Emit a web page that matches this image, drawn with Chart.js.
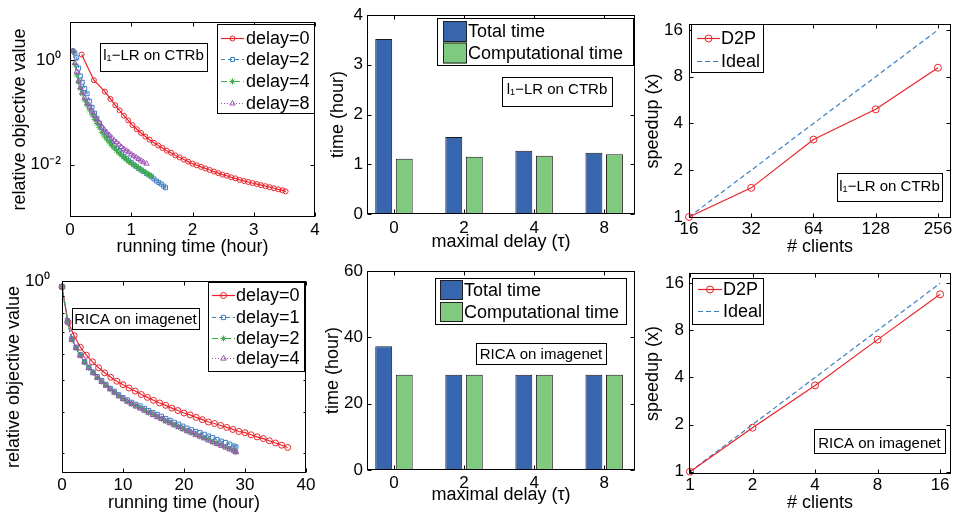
<!DOCTYPE html>
<html>
<head>
<meta charset="utf-8">
<script src="https://cdn.jsdelivr.net/npm/chart.js"></script>
<style>
  html, body { margin: 0; padding: 0; background: #fff; }
  #fig { position: relative; width: 956px; height: 512px; overflow: hidden; }
  #fig canvas { position: absolute; }
</style>
</head>
<body>
<div id="fig">
  <canvas id="ctrCurve" width="320" height="256" style="left:0;top:0"></canvas>
  <canvas id="ctrBars" width="320" height="256" style="left:320px;top:0"></canvas>
  <canvas id="ctrSpeed" width="316" height="256" style="left:640px;top:0"></canvas>
  <canvas id="ricaCurve" width="320" height="256" style="left:0;top:256px"></canvas>
  <canvas id="ricaBars" width="320" height="256" style="left:320px;top:256px"></canvas>
  <canvas id="ricaSpeed" width="316" height="256" style="left:640px;top:256px"></canvas>
</div>
<script>
// ---- l1-LR on CTRb : relative objective vs running time (hour) ----
const ctrTimeD0 = [0.19, 0.39, 0.57, 0.66, 0.74, 0.81, 0.88, 0.95, 1.02, 1.09, 1.16, 1.23, 1.30, 1.37, 1.44, 1.51,
  1.58, 1.65, 1.72, 1.79, 1.86, 1.93, 2.00, 2.07, 2.14, 2.21, 2.28, 2.35, 2.42, 2.49, 2.56, 2.63, 2.70, 2.77, 2.84,
  2.91, 2.98, 3.05, 3.12, 3.19, 3.26, 3.33, 3.40, 3.47, 3.52];
const ctrValD0 = [1.29, 0.417, 0.251, 0.182, 0.138, 0.110, 0.0871, 0.0708, 0.0575, 0.0479, 0.0407, 0.0347, 0.0302,
  0.0263, 0.0234, 0.0209, 0.0186, 0.0170, 0.0151, 0.0138, 0.0126, 0.0115, 0.0105, 0.00977, 0.00912, 0.00851, 0.00794,
  0.00741, 0.00692, 0.00646, 0.00617, 0.00575, 0.00550, 0.00513, 0.00490, 0.00468, 0.00447, 0.00427, 0.00407,
  0.00389, 0.00372, 0.00355, 0.00339, 0.00324, 0.00310];
const ctrTimeFast = [0.05, 0.08, 0.11, 0.14, 0.17, 0.20, 0.24, 0.28, 0.32, 0.36, 0.40, 0.44, 0.48, 0.52, 0.56, 0.60,
  0.64, 0.68, 0.72, 0.76, 0.80, 0.84, 0.88, 0.92, 0.96, 1.00, 1.04, 1.08, 1.12, 1.16, 1.20, 1.25, 1.29, 1.33, 1.37,
  1.41, 1.45, 1.49, 1.53, 1.56];
const ctrValD2 = [1.51, 1.38, 1.12, 0.708, 0.501, 0.380, 0.288, 0.229, 0.166, 0.126, 0.0977, 0.0776, 0.0631, 0.0513,
  0.0427, 0.0363, 0.0309, 0.0269, 0.0234, 0.0204, 0.0182, 0.0162, 0.0145, 0.0132, 0.0120, 0.0110, 0.0100, 0.00933,
  0.00851, 0.00794, 0.00741, 0.00676, 0.00631, 0.00589, 0.00537, 0.00490, 0.00457, 0.00427, 0.00389, 0.00363];
const ctrValD4 = [1.51, 0.832, 0.525, 0.380, 0.288, 0.229, 0.174, 0.138, 0.112, 0.0912, 0.0741, 0.0617, 0.0513,
  0.0417, 0.0355, 0.0309, 0.0269, 0.0234, 0.0209, 0.0186, 0.0166, 0.0151, 0.0138, 0.0126, 0.0115, 0.0107, 0.0100,
  0.00933, 0.00871, 0.00813, 0.00759, 0.00692, 0.00646, 0.00603];
const ctrValD8 = [1.51, 0.891, 0.603, 0.398, 0.302, 0.240, 0.191, 0.151, 0.126, 0.105, 0.0871, 0.0741, 0.0631,
  0.0537, 0.0468, 0.0417, 0.0372, 0.0331, 0.0295, 0.0269, 0.0245, 0.0219, 0.0200, 0.0186, 0.0174, 0.0158, 0.0148,
  0.0138, 0.0129, 0.0120, 0.0112, 0.0105];

// ---- RICA on imagenet : relative objective vs running time (hour) ----
const ricaTimeD0 = [0, 1, 2, 3, 4, 5, 6, 7, 8, 9, 10, 11, 12, 13, 14, 15, 16, 17, 18, 19, 20, 21, 22, 23, 24, 25, 26,
  27, 28, 29, 30, 31, 32, 33, 34, 35, 36, 37];
const ricaValD0 = [0.96, 0.749, 0.682, 0.629, 0.595, 0.568, 0.545, 0.526, 0.510, 0.496, 0.484, 0.473, 0.463, 0.452,
  0.443, 0.434, 0.426, 0.419, 0.411, 0.404, 0.397, 0.392, 0.385, 0.379, 0.373, 0.369, 0.364, 0.359, 0.354, 0.349,
  0.346, 0.341, 0.336, 0.332, 0.327, 0.322, 0.317, 0.312];
const ricaTimeFast = [0, 0.9, 1.6, 2.3, 3.0, 3.7, 4.4, 5.1, 5.8, 6.5, 7.2, 7.9, 8.6, 9.3, 10.0, 10.7, 11.4, 12.1,
  12.8, 13.5, 14.2, 14.9, 15.6, 16.3, 17.0, 17.7, 18.4, 19.1, 19.8, 20.5, 21.2, 21.9, 22.6, 23.3, 24.0, 24.7, 25.4,
  26.1, 26.8, 27.5, 28.2, 28.5];
const ricaValD1 = [0.96, 0.758, 0.667, 0.629, 0.597, 0.569, 0.547, 0.529, 0.512, 0.498, 0.485, 0.472, 0.462, 0.451,
  0.442, 0.435, 0.428, 0.422, 0.417, 0.410, 0.404, 0.398, 0.393, 0.388, 0.382, 0.377, 0.372, 0.367, 0.362, 0.357,
  0.353, 0.349, 0.346, 0.342, 0.338, 0.334, 0.330, 0.326, 0.323, 0.319, 0.315, 0.313];
const ricaValD2 = [0.96, 0.754, 0.664, 0.626, 0.594, 0.566, 0.544, 0.526, 0.509, 0.494, 0.482, 0.469, 0.458, 0.447,
  0.438, 0.430, 0.423, 0.417, 0.411, 0.404, 0.398, 0.393, 0.387, 0.381, 0.375, 0.371, 0.365, 0.360, 0.355, 0.350,
  0.346, 0.342, 0.337, 0.333, 0.329, 0.324, 0.321, 0.317, 0.313, 0.309, 0.305, 0.302];
const ricaValD4 = [0.96, 0.753, 0.663, 0.625, 0.593, 0.566, 0.544, 0.525, 0.508, 0.494, 0.481, 0.469, 0.458, 0.447,
  0.438, 0.430, 0.423, 0.416, 0.410, 0.404, 0.398, 0.392, 0.386, 0.381, 0.375, 0.370, 0.365, 0.360, 0.355, 0.350,
  0.346, 0.341, 0.337, 0.333, 0.328, 0.324, 0.320, 0.316, 0.312, 0.308, 0.305, 0.302];

// ---- bars: total vs computational time per maximal delay ----
const delayLabels = ['0', '2', '4', '8'];
const delaySlots = [0, 1, 2, 3];
const ctrTotal = [3.52, 1.55, 1.27, 1.23];
const ctrComp = [1.11, 1.15, 1.17, 1.20];
const ricaTotal = [37.3, 28.7, 28.7, 28.7];
const ricaComp = [28.7, 28.7, 28.7, 28.7];

// ---- speedup vs # clients ----
const ctrClients = [16, 32, 64, 128, 256];
const ctrSpeedup = [1, 1.54, 3.15, 4.93, 9.14];
const ctrIdeal = [1, 2, 4, 8, 16];
const ricaClients = [1, 2, 4, 8, 16];
const ricaSpeedup = [1, 1.91, 3.56, 6.98, 13.6];
const ricaIdeal = [1, 2, 4, 8, 16];
const speedTicks = [1, 2, 4, 8, 16];

const FONT = "'Liberation Sans', Arial, Helvetica, sans-serif";
const RED = '#e8232a', BLUE = '#3c7fc1', GREEN = '#3fae49', PURPLE = '#9b4fb6';
const BAR_BLUE = '#3766ae', BAR_GREEN = '#7fca7e';

Chart.defaults.font.family = FONT;
Chart.defaults.color = '#000';
Chart.defaults.animation = false;
Chart.defaults.responsive = false;
Chart.defaults.events = [];
Chart.defaults.plugins.legend.display = false;
Chart.defaults.plugins.tooltip.enabled = false;

function drawMarker(ctx, style, x, y, r) {
  ctx.beginPath();
  if (style === 'circle') ctx.arc(x, y, r, 0, 2 * Math.PI);
  else if (style === 'rect') { const h = r * Math.SQRT1_2; ctx.rect(x - h, y - h, 2 * h, 2 * h); }
  else if (style === 'triangle') {
    ctx.moveTo(x, y - r); ctx.lineTo(x + r * 0.866, y + r * 0.5); ctx.lineTo(x - r * 0.866, y + r * 0.5); ctx.closePath();
  } else if (style === 'star') {
    for (let k = 0; k < 4; k++) {
      const a = k * Math.PI / 4;
      ctx.moveTo(x - r * Math.cos(a), y - r * Math.sin(a));
      ctx.lineTo(x + r * Math.cos(a), y + r * Math.sin(a));
    }
  }
  ctx.stroke();
}

// box around the axes with inward ticks, matlab style
const framePlugin = {
  id: 'frame',
  afterDatasetsDraw(chart, args, o) {
    const { ctx, chartArea: a, scales } = chart;
    const L = Math.round(a.left) + 0.5, R = Math.round(a.right) - 0.5;
    const T = Math.round(a.top) + 0.5, B = Math.round(a.bottom) - 0.5;
    ctx.save();
    ctx.strokeStyle = '#000';
    ctx.lineWidth = 1;
    ctx.beginPath();
    scales.x.ticks.forEach(t => {
      const p = Math.round(scales.x.getPixelForValue(t.value)) + 0.5;
      ctx.moveTo(p, B); ctx.lineTo(p, B - 4);
      ctx.moveTo(p, T); ctx.lineTo(p, T + 4);
    });
    scales.y.ticks.forEach(t => {
      const p = Math.round(scales.y.getPixelForValue(t.value)) + 0.5;
      ctx.moveTo(L, p); ctx.lineTo(L + 4, p);
      ctx.moveTo(R, p); ctx.lineTo(R - 4, p);
    });
    (o.minorY || []).forEach(v => {
      const p = Math.round(scales.y.getPixelForValue(v)) + 0.5;
      ctx.moveTo(L, p); ctx.lineTo(L + 2, p);
      ctx.moveTo(R, p); ctx.lineTo(R - 2, p);
    });
    ctx.stroke();
    ctx.strokeRect(L, T, R - L, B - T);
    ctx.restore();
  },
  afterDraw(chart, args, o) {
    const ctx = chart.ctx;
    ctx.save();
    if (o.note) {
      const [x, y, w, h] = o.note.box;
      ctx.fillStyle = '#fff';
      ctx.fillRect(x, y, w, h);
      ctx.strokeStyle = '#000';
      ctx.lineWidth = 1;
      ctx.strokeRect(x + 0.5, y + 0.5, w, h);
      ctx.fillStyle = '#000';
      ctx.font = '15px ' + FONT;
      ctx.textAlign = 'center';
      ctx.textBaseline = 'alphabetic';
      ctx.fillText(o.note.text, x + w / 2, y + o.note.base);
    }
    if (o.legend) {
      const lg = o.legend;
      const [x, y, w, h] = lg.box;
      ctx.fillStyle = '#fff';
      ctx.fillRect(x, y, w, h);
      ctx.strokeStyle = '#000';
      ctx.lineWidth = 1;
      ctx.strokeRect(x + 0.5, y + 0.5, w, h);
      ctx.font = '18px ' + FONT;
      ctx.textAlign = 'left';
      ctx.textBaseline = 'middle';
      chart.data.datasets.forEach((ds, i) => {
        const ry = lg.rows[i];
        if (lg.swatch) {
          const [sx0, sx1, sh] = lg.swatch;
          ctx.fillStyle = ds.backgroundColor;
          ctx.fillRect(sx0, ry - sh / 2, sx1 - sx0, sh);
          ctx.strokeStyle = '#222';
          ctx.setLineDash([]);
          ctx.strokeRect(sx0 + 0.5, ry - sh / 2 + 0.5, sx1 - sx0 - 1, sh - 1);
        } else {
          ctx.strokeStyle = ds.borderColor;
          ctx.lineWidth = ds.borderWidth;
          ctx.setLineDash(ds.borderDash || []);
          ctx.beginPath();
          ctx.moveTo(lg.line[0], ry + 0.5);
          ctx.lineTo(lg.line[1], ry + 0.5);
          ctx.stroke();
          ctx.setLineDash([]);
          ctx.lineWidth = 1;
          if (ds.pointRadius > 0) drawMarker(ctx, ds.pointStyle, (lg.line[0] + lg.line[1]) / 2, ry + 0.5, ds.pointRadius);
        }
        ctx.fillStyle = '#000';
        ctx.fillText(ds.label, lg.textX, ry + 1);
      });
    }
    ctx.restore();
  }
};
Chart.register(framePlugin);

function axis(isX, c) {
  const s = {
    type: c.type || 'linear',
    min: c.min,
    max: c.max,
    offset: false,
    grid: { display: false, drawTicks: false },
    border: { display: false },
    ticks: { font: { size: 17 }, color: '#000', padding: c.pad, maxRotation: 0, minRotation: 0, autoSkip: false },
    title: {
      display: true, text: c.title, color: '#000', font: { size: 18, lineHeight: 1 },
      padding: isX ? { top: 0, bottom: c.titlePad } : { top: c.titlePad, bottom: 0 }
    },
    afterFit(sc) {
      if (isX) sc.height = c.size; else sc.width = c.size;
      sc.paddingLeft = sc.paddingRight = sc.paddingTop = sc.paddingBottom = 0;
    }
  };
  if (c.step) s.ticks.stepSize = c.step;
  if (c.fmt) s.ticks.callback = c.fmt;
  if (c.at) s.afterBuildTicks = sc => { sc.ticks = c.at.map(v => ({ value: v })); };
  return s;
}

function lineSet(label, xs, ys, color, dash, style, r, order) {
  return {
    label, order, clip: false,
    data: ys.map((y, i) => ({ x: xs[i], y })),
    borderColor: color, backgroundColor: 'rgba(255,255,255,0)', borderWidth: 1.2, borderDash: dash,
    pointStyle: style, pointRadius: r, pointBorderWidth: 1,
    pointBorderColor: color, pointBackgroundColor: 'rgba(255,255,255,0)', tension: 0
  };
}

function barSet(label, vals, color) {
  return {
    label, data: vals.map((y, i) => ({ x: delaySlots[i], y })),
    backgroundColor: color, borderColor: '#1a1a1a', borderWidth: 1,
    categoryPercentage: 0.586, barPercentage: 0.825
  };
}

const sup = v => (v === 1 ? '10\u2070' : v === 0.01 ? '10\u207B\u00B2' : '');
const plain = v => String(v);
const delayFmt = v => delayLabels[v];

// top-left
new Chart(document.getElementById('ctrCurve'), {
  type: 'line',
  data: { datasets: [
    lineSet('delay=0', ctrTimeD0, ctrValD0, RED, [], 'circle', 2.5, 3),
    lineSet('delay=2', ctrTimeFast, ctrValD2, BLUE, [4, 3], 'rect', 2.8, 2),
    lineSet('delay=4', ctrTimeFast, ctrValD4, GREEN, [6, 3, 1, 3], 'star', 3, 1),
    lineSet('delay=8', ctrTimeFast, ctrValD8, PURPLE, [1, 2], 'triangle', 3, 0)
  ] },
  options: {
    layout: { padding: { left: 0, top: 22, right: 5, bottom: 0 } },
    scales: {
      x: axis(true, { min: 0, max: 4, step: 1, size: 39, pad: 3, title: 'running time (hour)', titlePad: 0 }),
      y: axis(false, { type: 'logarithmic', min: 0.001, max: 5.42, at: [0.01, 1], fmt: sup, size: 70, pad: 9,
        title: 'relative objective value', titlePad: 11 })
    },
    plugins: { frame: {
      note: { box: [100, 43, 107, 28], text: 'l\u2081\u2212LR on CTRb', base: 16.5 },
      legend: { box: [217, 24, 97, 89], rows: [38, 59, 81, 103], line: [221, 244], textX: 246 }
    } }
  }
});

// bottom-left
new Chart(document.getElementById('ricaCurve'), {
  type: 'line',
  data: { datasets: [
    lineSet('delay=0', ricaTimeD0, ricaValD0, RED, [], 'circle', 3, 3),
    lineSet('delay=1', ricaTimeFast, ricaValD1, BLUE, [4, 3], 'rect', 3, 2),
    lineSet('delay=2', ricaTimeFast, ricaValD2, GREEN, [6, 3, 1, 3], 'star', 3, 1),
    lineSet('delay=4', ricaTimeFast, ricaValD4, PURPLE, [1, 2], 'triangle', 3.2, 0)
  ] },
  options: {
    layout: { padding: { left: 0, top: 25, right: 14, bottom: 0 } },
    scales: {
      x: axis(true, { min: 0, max: 40, step: 10, size: 39, pad: 2, title: 'running time (hour)', titlePad: 0 }),
      y: axis(false, { type: 'logarithmic', min: 0.261, max: 1, at: [1], fmt: sup, size: 62, pad: 12,
        title: 'relative objective value', titlePad: 5 })
    },
    plugins: { frame: {
      minorY: [0.3, 0.4, 0.5, 0.6, 0.7, 0.8, 0.9],
      note: { box: [72, 52, 127, 21], text: 'RICA on imagenet', base: 15.6 },
      legend: { box: [208, 26, 96, 89], rows: [39, 61, 82, 102], line: [212, 235], textX: 236 }
    } }
  }
});

// top-middle
new Chart(document.getElementById('ctrBars'), {
  type: 'bar',
  data: { datasets: [barSet('Total time', ctrTotal, BAR_BLUE), barSet('Computational time', ctrComp, BAR_GREEN)] },
  options: {
    layout: { padding: { left: 0, top: 15, right: 5, bottom: 0 } },
    scales: {
      x: axis(true, { min: -0.385, max: 3.44, at: delaySlots, fmt: delayFmt, size: 42, pad: 4,
        title: 'maximal delay (\u03C4)', titlePad: 5 }),
      y: axis(false, { min: 0, max: 4, step: 1, size: 47, pad: 4, title: 'time (hour)', titlePad: 9 })
    },
    plugins: { frame: {
      note: { box: [182, 77, 110, 29], text: 'l\u2081\u2212LR on CTRb', base: 16.6 },
      legend: { box: [117, 18, 196, 47], rows: [31.5, 53], swatch: [123, 147, 21], textX: 148 }
    } }
  }
});

// bottom-middle
new Chart(document.getElementById('ricaBars'), {
  type: 'bar',
  data: { datasets: [barSet('Total time', ricaTotal, BAR_BLUE), barSet('Computational time', ricaComp, BAR_GREEN)] },
  options: {
    layout: { padding: { left: 0, top: 15, right: 5, bottom: 0 } },
    scales: {
      x: axis(true, { min: -0.385, max: 3.44, at: delaySlots, fmt: delayFmt, size: 42, pad: 3,
        title: 'maximal delay (\u03C4)', titlePad: 8 }),
      y: axis(false, { min: 0, max: 60, step: 20, size: 47, pad: 4, title: 'time (hour)', titlePad: 4 })
    },
    plugins: { frame: {
      note: { box: [156, 87, 130, 21], text: 'RICA on imagenet', base: 15.7 },
      legend: { box: [115, 22, 191, 46], rows: [34, 56], swatch: [120, 143, 20], textX: 144 }
    } }
  }
});

// top-right
new Chart(document.getElementById('ctrSpeed'), {
  type: 'line',
  data: { datasets: [
    lineSet('D2P', ctrClients, ctrSpeedup, RED, [], 'circle', 3.5, 0),
    Object.assign(lineSet('Ideal', ctrClients, ctrIdeal, BLUE, [5, 3], 'circle', 0, 1), { pointRadius: 0 })
  ] },
  options: {
    layout: { padding: { left: 0, top: 24, right: 1, bottom: 0 } },
    scales: {
      x: axis(true, { type: 'logarithmic', min: 16, max: 296, at: ctrClients, fmt: plain, size: 38, pad: 1,
        title: '# clients', titlePad: 0 }),
      y: axis(false, { type: 'logarithmic', min: 0.985, max: 17.47, at: speedTicks, fmt: plain, size: 49, pad: 6,
        title: 'speedup (x)', titlePad: 4 })
    },
    plugins: { frame: {
      note: { box: [197, 173, 105, 28], text: 'l\u2081\u2212LR on CTRb', base: 17.5 },
      legend: { box: [51, 24, 72, 48], rows: [38, 61], line: [57, 80], textX: 81 }
    } }
  }
});

// bottom-right
new Chart(document.getElementById('ricaSpeed'), {
  type: 'line',
  data: { datasets: [
    lineSet('D2P', ricaClients, ricaSpeedup, RED, [], 'circle', 3.5, 0),
    Object.assign(lineSet('Ideal', ricaClients, ricaIdeal, BLUE, [5, 3], 'circle', 0, 1), { pointRadius: 0 })
  ] },
  options: {
    layout: { padding: { left: 0, top: 17, right: 2, bottom: 0 } },
    scales: {
      x: axis(true, { type: 'logarithmic', min: 0.989, max: 18.05, at: ricaClients, fmt: plain, size: 38, pad: 1,
        title: '# clients', titlePad: 0 }),
      y: axis(false, { type: 'logarithmic', min: 0.967, max: 18.6, at: speedTicks, fmt: plain, size: 49, pad: 5,
        title: 'speedup (x)', titlePad: 4 })
    },
    plugins: { frame: {
      note: { box: [174, 173, 131, 24], text: 'RICA on imagenet', base: 19 },
      legend: { box: [52, 22, 71, 46], rows: [33, 55], line: [58, 82], textX: 83 }
    } }
  }
});
</script>
</body>
</html>
